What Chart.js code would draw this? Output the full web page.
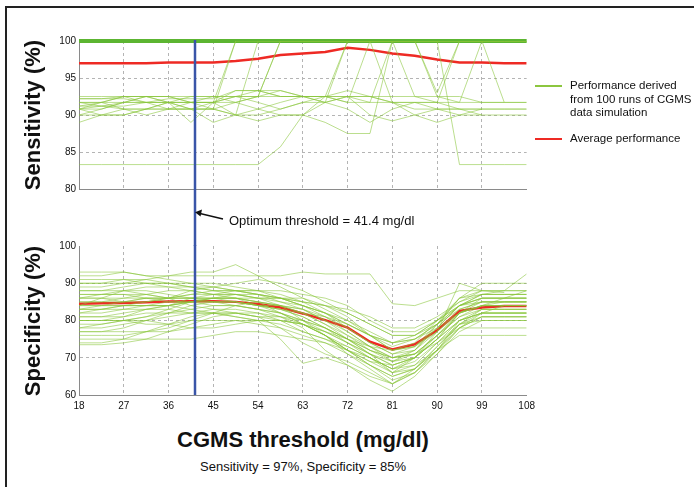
<!DOCTYPE html>
<html>
<head>
<meta charset="utf-8">
<script src="https://cdn.jsdelivr.net/npm/chart.js@4.4.1/dist/chart.umd.min.js"></script>
<style>
  body { margin: 0; background: #fff; font-family: "Liberation Sans", Arial, Helvetica, sans-serif; color: #111; }
  #wrap { position: relative; width: 694px; height: 487px; overflow: hidden; }
  canvas { position: absolute; left: 0; }
  .frameTop { position: absolute; left: 5px; top: 6px; width: 689px; height: 2px; background: #222; }
  .frameLeft { position: absolute; left: 5px; top: 6px; width: 2px; height: 481px; background: #222; }
  .ytitle { position: absolute; font-weight: bold; font-size: 22px; white-space: nowrap;
            transform: translate(-50%, -50%) rotate(-90deg); }
  .xtitle { position: absolute; left: 303px; top: 440px; transform: translate(-50%, -50%);
            font-weight: bold; font-size: 22px; white-space: nowrap; }
  .sub { position: absolute; left: 303px; top: 466px; transform: translate(-50%, -50%);
         font-size: 13px; white-space: nowrap; }
  .note { position: absolute; left: 229px; top: 213px; font-size: 13px; white-space: nowrap; }
  .lg { position: absolute; left: 570px; font-size: 11.5px; line-height: 13.5px; white-space: nowrap; }
  .swatch { position: absolute; left: 535px; width: 27px; height: 2px; }
</style>
</head>
<body>
<div id="wrap">
  <div class="frameTop"></div>
  <div class="frameLeft"></div>
  <canvas id="sensChart" width="540" height="246" style="top:0"></canvas>
  <canvas id="specChart" width="540" height="180" style="top:236px"></canvas>

  <div class="ytitle" style="left:33px; top:115px;">Sensitivity (%)</div>
  <div class="ytitle" style="left:33px; top:321px;">Specificity (%)</div>
  <div class="xtitle">CGMS threshold (mg/dl)</div>
  <div class="sub">Sensitivity = 97%, Specificity = 85%</div>

  <svg style="position:absolute;left:0;top:0" width="694" height="487">
    <line x1="223" y1="219" x2="200" y2="213.5" stroke="#111" stroke-width="1.3"/>
    <polygon points="195,212.3 202,209.5 200.5,216.5" fill="#111"/>
  </svg>
  <div class="note">Optimum threshold = 41.4 mg/dl</div>

  <div class="swatch" style="top:85px; background:#8cc63f;"></div>
  <div class="lg" style="top:79px;">Performance derived<br>from 100 runs of CGMS<br>data simulation</div>
  <div class="swatch" style="top:138px; background:#ee2a24;"></div>
  <div class="lg" style="top:132px;">Average performance</div>
</div>

<script>
// ---- data ----
const thresholds = [18, 22.5, 27, 31.5, 36, 40.5, 45, 49.5, 54, 58.5, 63, 67.5, 72, 76.5, 81, 85.5, 90, 94.5, 99, 103.5, 108];
const optimum = 41.4;

const sensAvg = [97.0, 97.0, 97.0, 97.0, 97.1, 97.1, 97.1, 97.3, 97.6, 98.1, 98.3, 98.5, 99.1, 98.8, 98.3, 98.0, 97.5, 97.1, 97.1, 97.0, 97.0];
const specAvg = [84.5, 84.6, 84.7, 84.9, 85.1, 85.2, 85.2, 85.0, 84.4, 83.5, 81.9, 80.1, 78.1, 74.3, 72.2, 73.6, 77.4, 82.6, 83.5, 83.9, 83.9];

// runs that stay at 100% sensitivity over the whole range
const sensFull = [100, 100, 100, 100, 100, 100, 100, 100, 100, 100, 100, 100, 100, 100, 100, 100, 100, 100, 100, 100, 100];

const sensRuns = [
  [90.0, 90.8, 91.7, 91.7, 91.7, 91.7, 90.8, 100, 100, 100, 100, 100, 100, 100, 91.7, 91.7, 90.8, 90.8, 90.8, 90.8, 90.8],
  [91.7, 91.7, 92.5, 92.5, 91.7, 91.7, 91.7, 91.7, 92.5, 100, 100, 100, 100, 100, 100, 100, 100, 100, 100, 100, 100],
  [92.2, 92.2, 92.2, 91.7, 91.7, 91.7, 92.5, 92.5, 93.3, 92.5, 92.5, 91.7, 100, 100, 100, 92.5, 91.7, 91.7, 91.7, 91.7, 91.7],
  [89.0, 90.0, 90.8, 90.8, 91.7, 90.8, 90.8, 90.0, 90.8, 91.7, 92.5, 92.5, 91.7, 91.7, 100, 100, 100, 100, 100, 100, 100],
  [90.8, 90.0, 90.0, 90.8, 90.8, 90.8, 90.8, 90.0, 90.0, 90.8, 91.7, 91.7, 92.5, 91.7, 91.7, 90.8, 90.8, 90.0, 90.0, 90.0, 90.0],
  [91.7, 91.7, 90.8, 90.0, 90.8, 91.7, 91.7, 92.5, 92.5, 100, 100, 100, 100, 100, 100, 100, 92.5, 91.7, 100, 91.7, null],
  [83.3, 83.3, 83.3, 83.3, 83.3, 83.3, 83.3, 83.3, 83.3, 85.7, 90.0, 92.5, 100, 100, 100, 100, 100, 100, 100, 100, 100],
  [91.2, 91.2, 91.2, 91.7, 92.2, 92.2, 92.2, 93.3, 93.3, 92.5, 92.5, 91.7, 90.8, 89.0, 90.8, 91.7, 91.7, 90.8, 90.8, null, null],
  [92.5, 92.5, 92.5, 92.5, 92.5, 92.5, 92.5, 92.5, 92.5, 92.5, 92.5, 92.5, 91.7, 100, 100, 100, 100, 83.3, 83.3, 83.3, 83.3],
  [90.8, 91.7, 91.7, 92.5, 92.5, 91.7, 91.7, 90.0, 89.2, 90.0, 90.0, 91.7, 92.5, 92.5, 92.5, 92.5, 92.5, 92.5, 91.7, 91.7, 91.7],
  [91.7, 91.2, 90.8, 90.8, 90.8, 90.8, 91.7, 92.5, 91.7, 90.8, 91.7, 92.5, 93.3, 92.5, 91.7, 90.0, 89.0, 90.0, 90.8, 90.8, 90.8],
  [90.0, 90.0, 90.0, 90.8, 91.7, 92.5, 92.5, 91.7, 90.8, 90.0, 90.0, 89.0, 87.5, 87.5, 100, 100, 100, 100, 100, 100, 100],
  [91.2, 91.7, 92.5, 91.7, 90.8, 90.8, 89.0, 90.0, 100, 100, 100, 100, 100, 100, 100, 100, 93.0, 100, 100, 100, 100],
  [90.8, 90.8, 91.7, 91.7, 91.7, 90.8, 90.8, 91.7, 92.5, 93.3, 92.5, 92.5, 92.5, 90.0, 89.2, 90.0, 90.8, 90.8, 90.0, null, null],
  [92.2, 92.2, 92.5, 92.5, 92.5, 91.7, 91.7, 93.3, 93.3, 93.3, 92.5, 92.5, 92.5, 92.5, 91.7, 91.7, 91.7, 100, 100, null, null],
  [90.8, 91.2, 91.7, 92.5, 91.7, 89.0, 91.7, 100, 100, 100, 100, 100, 100, 100, 100, 100, 100, 100, 100, 100, 100]
];

const specRuns = [
  [90, 90, 90, 90, 90, 90, 90, 89, 88, 86, 84, 82, 80, 76, 72, 74, 80, 86, 90, 90, 90],
  [84, 86, 88, 87, 86, 88, 89, 88, 87, 85, 83, 80, 77, 73, 70, 72, 78, 84, 87, 88, 88],
  [80, 80, 81, 83, 84, 85, 86, 85, 84, 82, 79, 76, 73, 70, 67, 70, 75, 82, 86, 86, 86],
  [76, 76, 76, 77, 78, 80, 82, 84, 85, 84, 82, 79, 75, 71, 68, 70, 76, 82, 84, 85, 85],
  [92, 92, 93, 92, 91, 90, 89, 90, 91, 90, 88, 85, 82, 79, 76, 76, 80, 84, 86, 86, 86],
  [86, 86, 85, 85, 86, 87, 87, 86, 84, 83, 82, 81, 79, 76, 72, 73, 79, 86, 87, 87, 87],
  [82, 83, 84, 84, 85, 85, 84, 84, 83, 82, 80, 77, 74, 71, 66, 67, 72, 80, 83, 83, 83],
  [88, 88, 88, 89, 89, 89, 88, 87, 86, 86, 86, 84, 81, 76, 74, 76, 80, 84, 85, 85, 85],
  [78, 78, 79, 80, 81, 82, 83, 82, 81, 78, 74, 71, 69, 66, 63, 66, 72, 78, 82, 84, 84],
  [85, 85, 86, 87, 86, 84, 83, 83, 82, 80, 77, 75, 72, 69, 68, 70, 75, 80, 82, 82, 82],
  [74, 74, 75, 77, 79, 81, 82, 82, 81, 80, 79, 77, 75, 72, 70, 71, 74, 79, 81, 81, 81],
  [90, 90, 91, 90, 89, 88, 87, 87, 86, 86, 85, 84, 83, 81, 78, 78, 81, 85, 88, 88, 92.5],
  [83, 83, 83, 84, 84, 85, 86, 86, 85, 82, 79, 76, 72, 68, 64, 66, 71, 78, 81, 81, 81],
  [87, 87, 87, 86, 85, 85, 85, 85, 84, 84, 83, 81, 77, 73, 69, 70, 75, 82, 85, 85, 85],
  [80, 80, 80, 79, 79, 80, 80, 80, 79, 78, 76, 74, 71, 68, 65, 67, 73, 79, 80, 80, 80],
  [77, 77, 77, 77, 77, 78, 79, 80, 80, 79, 77, 75, 73, 70, 67, 69, 74, 78, 78, 78, 78],
  [89, 89, 90, 91, 92, 93, 93, 95, 92, 89, 86, 83, 80, 77, 74, 75, 78, 82, 84, 84, 84],
  [81, 81, 82, 83, 84, 86, 87, 88, 88, 87, 85, 82, 78, 74, 71, 73, 78, 84, 87, 87, 87],
  [93, 93, 93, 92, 92, 92, 92, 92, 92, 92, 93, 92.5, 92.5, 92.5, 84.5, 84, 86, 88, 88, null, null],
  [75, 75, 75, 75, 75, 75, 76, 77, 77, 76, 75, 74, 72, 70, 67, 68, 72, 76, 76, 76, 76],
  [86, 87, 88, 88, 87, 86, 85, 85, 84, 83, 81, 78, 75, 71, 69, 72, 79, 86, 88, 88, 88],
  [79, 79, 80, 81, 82, 83, 84, 84, 83, 81, 78, 72, 68, 64, 61, 65, 71, 77, 80, 80, 80],
  [84, 84, 84, 85, 86, 87, 88, 88, 87, 86, 84, 81, 78, 74, 71, 72, 77, 83, 85, 85, 85],
  [88, 88, 89, 90, 90, 89, 89, 88, 88, 88, 87, 86, 84, 80, 77, 77, 80, 85, 87, 87, 87],
  [82, 82, 83, 83, 83, 82, 82, 82, 81, 81, 80, 78, 75, 72, 69, 71, 76, 81, 83, 83, 83],
  [85, 85, 85, 86, 86, 86, 86, 86, 86, 85, 84, 82, 79, 76, 74, 75, 79, 84, 86, 86, 86],
  [83, 84, 85, 86, 86, 86, 86, 86, 85, 84, 83, 80, 76, 72, 70, 71, 76, 82, 84, 84, 84],
  [73.5, 73.5, 74, 75, 77, 79, 81, 82, 82, 81, 79, 76, 72, 68, 65, 67, 73, 79, 82, 82, 82],
  [87, 87, 87, 87, 88, 88, 87, 87, 87, 86, 85, 84, 82, 79, 76, 76, 79, 83, 85, 85, 85],
  [91, 91, 91, 91, 90, 89, 88, 88, 87, 86, 84, 82, 79, 76, 73, 75, 79, 84, 86, 86, 86],
  [80, 80, 80, 81, 83, 85, 86, 87, 86, 84, 80, 76, 71, 67, 63, 66, 72, 79, 83, 83, 83],
  [77, 77, 78, 80, 82, 84, 85, 85, 84, 83, 81, 78, 74, 70, 66, 68, 74, 80, 82, 82, 82],
  [86, 86, 86, 86, 86, 86, 86, 86, 85, 84, 82, 79, 76, 73, 72, 73, 77, 82, 84, 84, 84],
  [84, 84, 84, 84, 84, 83, 82, 81, 80, 80, 79, 77, 74, 71, 68, 70, 75, 80, 82, 82, 82],
  [81, 81, 81, 82, 82, 82, 82, 81, 80, 75, 68.5, 70, 68, 65, 63, 67, 72, 78, 81, 81, 81],
  [78, 79, 80, 80, 79, 78, 78, 79, 80, 80, 79, 76, 72, 69, 66, 70, 77, 90, 88, 87.5, null],
  [83, 83, 84, 84, 84, 85, 85, 84, 83, 82, 80, 78, 75, 73, 70, 71, 76, 81, 84, 86, 88]
];

// ---- helpers ----
const toPoints = (vals) => thresholds.map((t, i) => ({ x: t, y: vals[i] }));

const runColor = "rgba(136, 198, 58, 0.72)";
const avgColor = "#ee2a24";

function runSets(runs) {
  return runs.map((r) => ({
    data: toPoints(r),
    borderColor: runColor,
    borderWidth: 0.8,
    pointRadius: 0,
    tension: 0
  }));
}

// blue vertical marker at the optimum threshold; the top panel also covers the gap
const optimumLine = {
  id: "optimumLine",
  afterDatasetsDraw(chart, args, opts) {
    const { ctx, chartArea } = chart;
    const x = Math.round(chart.scales.x.getPixelForValue(optimum));
    ctx.save();
    ctx.strokeStyle = "#3a55a8";
    ctx.lineWidth = 2.5;
    ctx.beginPath();
    ctx.moveTo(x, chartArea.top - 1);
    ctx.lineTo(x, opts.toBottom ? chart.height : chartArea.bottom);
    ctx.stroke();
    ctx.restore();
  }
};

const gridColor = (edgeValues) => (c) =>
  c.tick && edgeValues.includes(c.tick.value) ? "rgba(0,0,0,0)" : "#b4b4b4";

// both panels lay out the x axis the same way; the top one just hides its labels
function baseOptions(yMin, yMax, yStep, labelColor, padding, xHeight, lineOpts) {
  return {
    responsive: false,
    animation: false,
    devicePixelRatio: 1,
    layout: { padding },
    plugins: { legend: { display: false }, tooltip: { enabled: false }, optimumLine: lineOpts },
    scales: {
      x: {
        type: "linear",
        min: 18,
        max: 108,
        ticks: {
          stepSize: 9,
          padding: 5,
          color: labelColor,
          font: { family: "'Liberation Sans', Arial, sans-serif", size: 10 }
        },
        grid: { color: gridColor([18, 108]), drawTicks: false, lineWidth: 1 },
        border: { color: "#8a8a8a", width: 1, dash: [3, 3] },
        afterFit: (s) => { s.height = xHeight; }
      },
      y: {
        min: yMin,
        max: yMax,
        ticks: {
          stepSize: yStep,
          padding: 3,
          color: "#111",
          font: { family: "'Liberation Sans', Arial, sans-serif", size: 10 }
        },
        grid: { color: gridColor([yMin, yMax]), drawTicks: false, lineWidth: 1 },
        border: { color: "#8a8a8a", width: 1, dash: [3, 3] },
        afterFit: (s) => { s.width = 30; }
      }
    }
  };
}

// ---- sensitivity ----
new Chart(document.getElementById("sensChart"), {
  type: "line",
  data: {
    datasets: [
      ...runSets(sensRuns),
      { data: toPoints(sensFull), borderColor: "#5cb531", borderWidth: 4, pointRadius: 0, clip: 4 },
      { data: toPoints(sensAvg), borderColor: avgColor, borderWidth: 2.5, pointRadius: 0, tension: 0 }
    ]
  },
  options: baseOptions(80, 100, 5, "rgba(0,0,0,0)", { left: 49, right: 11, top: 41, bottom: 36 }, 21,
    { toBottom: true }),
  plugins: [optimumLine]
});

// ---- specificity ----
new Chart(document.getElementById("specChart"), {
  type: "line",
  data: {
    datasets: [
      ...runSets(specRuns),
      { data: toPoints(specAvg), borderColor: avgColor, borderWidth: 2.5, pointRadius: 0, tension: 0 }
    ]
  },
  options: baseOptions(60, 100, 10, "#111", { left: 49, right: 11, top: 10, bottom: 0 }, 21,
    { toBottom: false }),
  plugins: [optimumLine]
});
</script>
</body>
</html>
